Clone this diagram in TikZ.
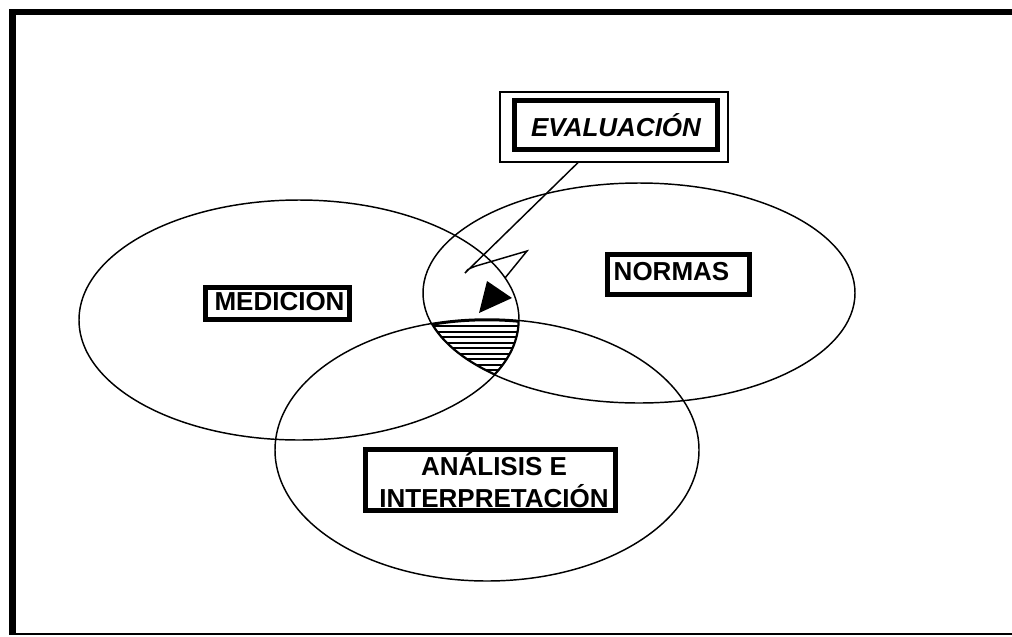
\documentclass[tikz,border=0pt]{standalone}
\usepackage{fontspec}
\setmainfont{Liberation Sans}
\usetikzlibrary{calc}
\begin{document}
\begin{tikzpicture}[x=0.75pt,y=-0.75pt,
  ell/.style={draw=black,line width=1.1pt},
  thickbox/.style={draw=black,line width=3.75pt,fill=white,inner sep=0pt},
  thinbox/.style={draw=black,line width=0.9pt,fill=white,inner sep=0pt},
  lbl/.style={font=\bfseries\fontsize{19.5}{24}\selectfont,inner sep=0pt,align=center},
  hatchline/.style={line width=1.5pt},
  bolt/.style={draw=black,line width=1.1pt,line join=miter},
]
\useasboundingbox (0,0) rectangle (1012,636);
\fill[white] (0,0) rectangle (1012,636);
% frame
\draw[line width=4.5pt] (9,12) -- (1012,12);
\draw[line width=5.25pt] (12,10) -- (12,634.5);
\draw[line width=1.2pt] (12,634) -- (1012,634);

% three ellipses
\draw[ell] (299,320) ellipse [x radius=220,y radius=120];
\draw[ell] (639,293) ellipse [x radius=216,y radius=110];
\draw[ell] (487,450) ellipse [x radius=212,y radius=131];

% hatched common region
\begin{scope}
  \clip (299,320) ellipse [x radius=220,y radius=120];
  \clip (639,293) ellipse [x radius=216,y radius=110];
  \clip (487,450) ellipse [x radius=212,y radius=131];
  \foreach \yy in {326,331.5,...,378} \draw[hatchline] (400,\yy) -- (560,\yy);
  \draw[line width=3.4pt] (487,450) ellipse [x radius=212,y radius=131];
  \draw[line width=2.2pt] (299,320) ellipse [x radius=220,y radius=120];
  \draw[line width=2.2pt] (639,293) ellipse [x radius=216,y radius=110];
\end{scope}

% labels
\node[thickbox, minimum width=108pt, minimum height=24pt] (medbox) at (277.5,303.5) {};
\node[lbl] (med) at (279.5,302) {MEDICION};

\node[thickbox, minimum width=106.5pt, minimum height=30pt] (normbox) at (678.5,274.5) {};
\node[lbl] (norm) at (671.5,272) {NORMAS};

\node[thickbox, minimum width=187.5pt, minimum height=45.75pt] (anabox) at (490.5,480) {};
\node[lbl] (ana) at (494,480.5) {ANÁLISIS E\\INTERPRETACIÓN};

\node[thinbox, minimum width=171pt, minimum height=52.5pt] (evalframe) at (614,127) {};
\node[thickbox, minimum width=152.25pt, minimum height=36.75pt,
      font=\bfseries\itshape\fontsize{19.5}{24}\selectfont] (eval) at (616,125) {EVALUACIÓN};

% lightning connector
\coordinate (b1) at (465,273);
\coordinate (b2) at (527,251);
\coordinate (b3) at (505,278);
\draw[bolt] ($(evalframe.south)+(-36,0)$) -- (b1) .. controls (467,269.5) .. (476,266) -- (b2) -- (b3);
\fill (487,281) -- (512,298) -- (479,313) -- cycle;
\end{tikzpicture}
\end{document}
